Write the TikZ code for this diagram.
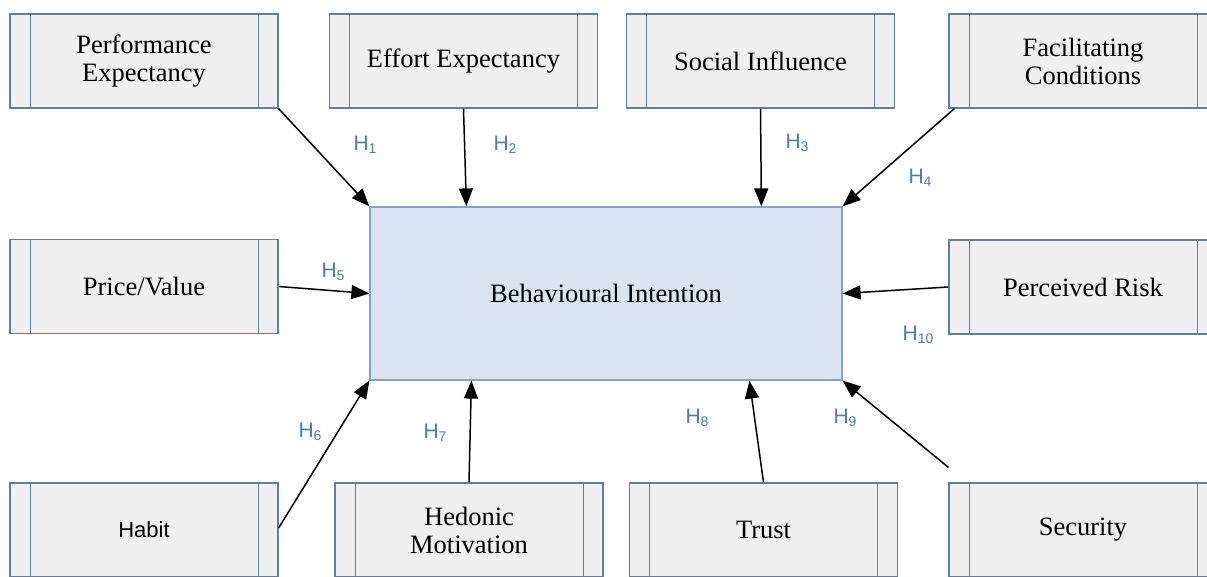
\documentclass[tikz,border=0pt]{standalone}
\usepackage{fontspec}
\setmainfont{Liberation Serif}
\setsansfont{Liberation Sans}
\usetikzlibrary{arrows.meta,calc}
\definecolor{boxfill}{HTML}{F0F0F0}
\definecolor{boxline}{HTML}{5E7EA2}
\definecolor{bifill}{HTML}{DCE4F4}
\definecolor{biline}{HTML}{7FA3CF}
\definecolor{hcol}{HTML}{4F7DB0}
\tikzset{
 proc/.style={draw=boxline, fill=boxfill, line width=1.2pt, minimum width=268pt, minimum height=94pt, inner sep=0pt, align=center,
   font=\fontsize{26.5}{28}\selectfont,
   path picture={\draw[boxline,line width=1pt]
     ([xshift=20pt]path picture bounding box.north west) -- ([xshift=20pt]path picture bounding box.south west)
     ([xshift=-20pt]path picture bounding box.north east) -- ([xshift=-20pt]path picture bounding box.south east);}},
 central/.style={draw=biline, fill=bifill, line width=1.2pt, minimum width=472pt, minimum height=173pt, inner sep=0pt,
   font=\fontsize{26.5}{28}\selectfont},
 conn/.style={line width=1.5pt, -{Triangle[length=18pt,width=14pt]}},
 hlab/.style={text=hcol, font=\sffamily\fontsize{21}{21}\selectfont, inner sep=0pt},
}
\newcommand{\hlab}[1]{H\raisebox{-0.3ex}{\fontsize{14}{14}\selectfont #1}}
\begin{document}
\begin{tikzpicture}[x=1pt,y=-1pt]
\path[use as bounding box, clip] (0,0) rectangle (1207,577);
\fill[white] (0,0) rectangle (1207,577);
% top row
\node[proc] (pe) at (144,61) {Performance\\Expectancy};
\node[proc] (ee) at (463.5,61) {Effort Expectancy};
\node[proc] (si) at (760.5,61) {Social Influence};
\node[proc] (fc) at (1083,61) {Facilitating\\Conditions};
% middle row
\node[proc] (pv) at (144,286.5) {Price/Value};
\node[central] (bi) at (606,293.5) {Behavioural Intention};
\node[proc] (pr) at (1083,287) {Perceived Risk};
% bottom row
\node[proc, font=\sffamily\fontsize{22}{24}\selectfont] (hb) at (144,530) {Habit};
\node[proc] (hm) at (469,530) {Hedonic\\Motivation};
\node[proc] (tr) at (763.5,530) {Trust};
\node[proc] (sc) at (1083,530) {Security};
% connectors
\draw[conn] (pe.south east) -- (bi.north west);
\draw[conn] (ee.south) -- ($(bi.north west)+(97,0)$);
\draw[conn] (si.south) -- ($(bi.north west)+(392,0)$);
\draw[conn] ($(fc.south west)+(6,0)$) -- (bi.north east);
\draw[conn] (pv.east) -- (bi.west);
\draw[conn] (pr.west) -- (bi.east);
\draw[conn] ($(hb.east)+(0,-2)$) -- (bi.south west);
\draw[conn] (hm.north) -- ($(bi.south west)+(102,0)$);
\draw[conn] (tr.north) -- ($(bi.south west)+(380,0)$);
\coordinate (scs) at ($(sc.north west)+(0,-15)$);
\draw[conn] (scs) -- (bi.south east);
% labels
\node[hlab] (l1) at (365,145) {\hlab{1}};
\node[hlab] (l2) at (505,145) {\hlab{2}};
\node[hlab] (l3) at (797,143) {\hlab{3}};
\node[hlab] (l4) at (920,178) {\hlab{4}};
\node[hlab] (l5) at (333,272) {\hlab{5}};
\node[hlab] (l10) at (918,335) {\hlab{10}};
\node[hlab] (l6) at (310,432) {\hlab{6}};
\node[hlab] (l7) at (435,433) {\hlab{7}};
\node[hlab] (l8) at (697,418) {\hlab{8}};
\node[hlab] (l9) at (845,418) {\hlab{9}};
\end{tikzpicture}
\end{document}
